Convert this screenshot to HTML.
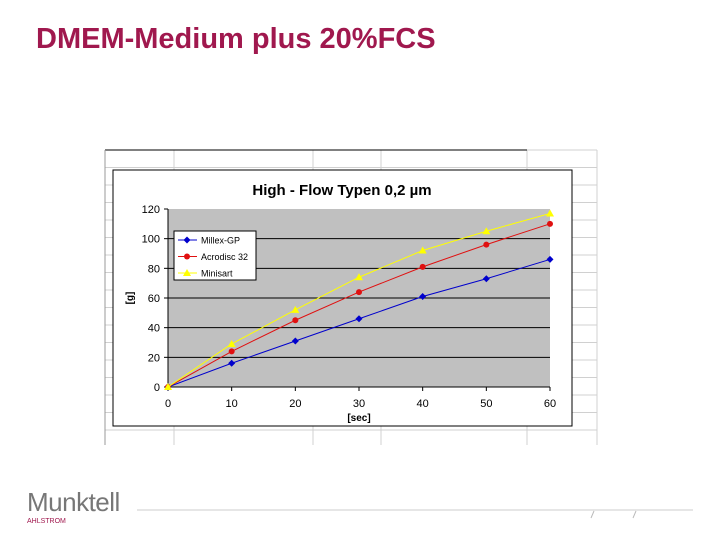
<!DOCTYPE html>
<html><head><meta charset="utf-8"><style>
body{margin:0;width:720px;height:540px;background:#fff;position:relative;overflow:hidden;font-family:"Liberation Sans",sans-serif}
#title{position:absolute;left:36px;top:23px;font-size:29px;font-weight:bold;color:#a0184e;margin:0;white-space:nowrap}
</style></head><body>
<h1 id="title">DMEM-Medium plus 20%FCS</h1>
<svg id="s" width="720" height="540" style="position:absolute;left:0;top:0"></svg>
<script>
const xCats=[0,10,20,30,40,50,60];
const xLabels=["0","10","20","30","40","50","60"];
const yTicks=[0,20,40,60,80,100,120];
const millex=[0,16,31,46,61,73,86];
const acrodisc=[0,24,45,64,81,96,110];
const minisart=[0,29,52,74,92,105,117];
const seriesNames=["Millex-GP","Acrodisc 32","Minisart"];
const NS="http://www.w3.org/2000/svg";
const s=document.getElementById('s');
function mk(t,a,p){const e=document.createElementNS(NS,t);for(const k in a)e.setAttribute(k,a[k]);(p||s).appendChild(e);return e;}
const X=v=>168+(v/60)*382, Y=v=>387-(v/120)*178;
const grid=mk('g',{});
for(let y=150;y<=445;y+=17.5)mk('line',{x1:105,x2:597,y1:y,y2:y,stroke:'#d0d0d0','stroke-width':1},grid);
[105,174,313,381,527,597].forEach(x=>mk('line',{x1:x,x2:x,y1:150,y2:445,stroke:'#d0d0d0'},grid));
mk('line',{x1:105,x2:527,y1:150,y2:150,stroke:'#000'},grid);
mk('line',{x1:105,x2:105,y1:150,y2:445,stroke:'#999'},grid);
const box=mk('rect',{x:113,y:170,width:459,height:256,fill:'#fff',stroke:'#000'});

const t=mk('text',{x:342,y:195,'text-anchor':'middle','font-size':15,'font-weight':'bold'});t.textContent='High - Flow Typen 0,2 µm';

const pa=mk('rect',{x:168,y:209,width:382,height:178,fill:'#c0c0c0'});

yTicks.forEach(v=>{
 if(v>0&&v<120){const l=mk('line',{x1:168,x2:550,y1:Y(v),y2:Y(v),stroke:'#000'});}
 mk('line',{x1:164,x2:168,y1:Y(v),y2:Y(v),stroke:'#000'});
 const e=mk('text',{x:160,y:Y(v)+4,'text-anchor':'end','font-size':11});e.textContent=v;
 
});
mk('line',{x1:168,x2:168,y1:209,y2:387,stroke:'#000'});
mk('line',{x1:168,x2:550,y1:387,y2:387,stroke:'#000'});
xCats.forEach((v,i)=>{
 mk('line',{x1:X(v),x2:X(v),y1:387,y2:391,stroke:'#000'});
 const e=mk('text',{x:X(v),y:407,'text-anchor':'middle','font-size':11});e.textContent=xLabels[i];
 
});
const xt=mk('text',{x:359,y:421,'text-anchor':'middle','font-size':10,'font-weight':'bold'});xt.textContent='[sec]';

const yt=mk('text',{x:0,y:0,'text-anchor':'middle','font-size':10,'font-weight':'bold',transform:'translate(133,298) rotate(-90)'});yt.textContent='[g]';

const cols=['#0000cc','#e01010','#ffff00'];
function marker(x,y,i,p){
 if(i==0)return mk('polygon',{points:`${x},${y-3.5} ${x+3.5},${y} ${x},${y+3.5} ${x-3.5},${y}`,fill:cols[0]},p);
 if(i==1)return mk('circle',{cx:x,cy:y,r:3,fill:cols[1]},p);
 return mk('polygon',{points:`${x},${y-4} ${x+4},${y+3} ${x-4},${y+3}`,fill:cols[2]},p);
}
[millex,acrodisc,minisart].forEach((d,i)=>{
 const g=mk('g',{});
 mk('polyline',{points:d.map((v,j)=>X(xCats[j])+','+Y(v)).join(' '),fill:'none',stroke:cols[i],'stroke-width':1},g);
 d.forEach((v,j)=>{const m=marker(X(xCats[j]),Y(v),i,g);});
});
const lg=mk('g',{});
mk('rect',{x:174,y:231,width:82,height:49,fill:'#fff',stroke:'#000'},lg);
seriesNames.forEach((n,i)=>{
 const y=240+i*16.5;
 const le=mk('g',{},lg);
 mk('line',{x1:178,x2:197,y1:y,y2:y,stroke:cols[i]},le);marker(187,y,i,le);
 const tx=mk('text',{x:201,y:y+3.5,'font-size':9},le);tx.textContent=n;
});
const fl=mk('line',{x1:137,x2:693,y1:510,y2:510,stroke:'#ccc'});
const lo=mk('text',{x:27,y:511,'font-size':26,fill:'#777','letter-spacing':'-0.5'});lo.textContent='Munktell';

const ah=mk('text',{x:27,y:523,'font-size':7,fill:'#a0184e'});ah.textContent='AHLSTROM';

mk('line',{x1:591,x2:594,y1:518,y2:511,stroke:'#bbb'});mk('line',{x1:633,x2:636,y1:518,y2:511,stroke:'#bbb'});
</script>
</body></html>
